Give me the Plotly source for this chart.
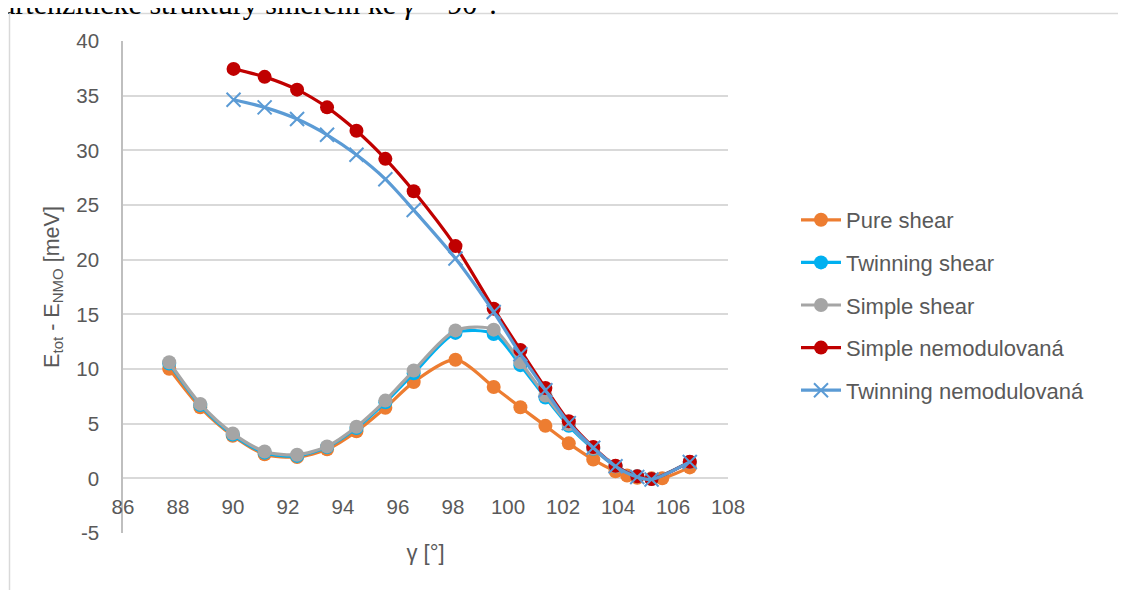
import plotly.graph_objects as go

# ---- data ----
x_pure = [87.68, 88.81, 89.99, 91.15, 92.33, 93.42, 94.49, 95.54, 96.57, 98.09, 99.48,
          100.45, 101.36, 102.21, 103.10, 103.91, 104.33, 104.70, 105.22, 105.61, 106.61]
y_pure = [10.02, 6.5, 3.9, 2.2, 1.95, 2.65, 4.3, 6.45, 8.8, 10.85, 8.35,
          6.5, 4.8, 3.2, 1.72, 0.65, 0.25, 0.05, 0.0, 0.0, 1.0]

x_shear = [87.68, 88.81, 89.99, 91.15, 92.33, 93.42, 94.49, 95.54, 96.57, 98.09, 99.48,
           100.45, 101.36, 102.21, 103.10, 103.91, 104.70, 105.22, 106.61]
y_twin = [10.5, 6.7, 4.0, 2.35, 2.05, 2.85, 4.6, 6.95, 9.6, 13.3, 13.2,
          10.35, 7.4, 4.8, 2.7, 1.1, 0.2, -0.05, 1.5]
y_simple = [10.62, 6.81, 4.11, 2.46, 2.16, 2.92, 4.72, 7.11, 9.86, 13.53, 13.6,
            10.62, 7.57, 4.95, 2.75, 1.1, 0.2, -0.05, 1.5]

x_nemod = [90.02, 91.15, 92.33, 93.42, 94.49, 95.54, 96.57, 98.09, 99.48,
           100.45, 101.36, 102.21, 103.10, 103.91, 104.70, 105.22, 106.61]
y_simple_nemod = [37.45, 36.72, 35.55, 33.93, 31.79, 29.22, 26.26, 21.24, 15.52,
                  11.74, 8.26, 5.23, 2.86, 1.15, 0.18, -0.07, 1.51]
y_twin_nemod = [34.63, 33.93, 32.86, 31.42, 29.59, 27.36, 24.54, 20.11, 15.21,
                11.35, 8.05, 5.05, 2.8, 1.1, 0.12, -0.1, 1.5]

names = ["Pure shear", "Twinning shear", "Simple shear", "Simple nemodulovaná", "Twinning nemodulovaná"]
colors = ["#ED7D31", "#00B0F0", "#A5A5A5", "#C00000", "#5B9BD5"]

x_range = [86, 108]
y_range = [-5, 40]
x_ticks = list(range(86, 109, 2))
y_ticks = list(range(-5, 41, 5))
y_ticktext = [str(v) for v in y_ticks]   # plain hyphen for "-5"

caption = "artenzitické struktury směrem ke <i>γ</i> = 90°."
x_title = "γ [°]"
y_title = "E<sub>tot</sub> - E<sub>NMO</sub> [meV]"

FONT = "Liberation Sans, Arial, sans-serif"
TXT = "#595959"

# page body has an 8px margin; the plot area in reference pixels is x 123..728, y 41..533
L, T, W, H = 115, 33, 605, 492


def px(p):  # reference x pixel -> paper
    return (p - 123) / W


def py(p):  # reference y pixel -> paper
    return (533 - p) / H


fig = go.Figure()
series = [(x_pure, y_pure), (x_shear, y_twin), (x_shear, y_simple),
          (x_nemod, y_simple_nemod), (x_nemod, y_twin_nemod)]
for i, ((xs, ys), nm, c) in enumerate(zip(series, names, colors)):
    if i == 4:
        marker = dict(symbol="x-thin", size=14, color=c, line=dict(color=c, width=2))
    else:
        marker = dict(symbol="circle", size=14, color=c)
    fig.add_trace(go.Scatter(
        x=xs, y=ys, name=nm, mode="lines+markers",
        line=dict(color=c, width=3.2, shape="spline", smoothing=0.8),
        marker=marker, legendgroup=nm,
    ))

zero_pos = (0 - y_range[0]) / (y_range[1] - y_range[0])

fig.update_layout(
    width=1126, height=590,
    margin=dict(l=L, r=1126 - L - W, t=T, b=590 - T - H, autoexpand=False),
    paper_bgcolor="white", plot_bgcolor="white",
    font=dict(family=FONT, size=20, color=TXT),
    showlegend=True,
    legend=dict(x=px(796), y=py(199), xanchor="left", yanchor="top",
                font=dict(family=FONT, size=22, color=TXT),
                tracegroupgap=11, itemwidth=40, bgcolor="rgba(0,0,0,0)"),
    xaxis=dict(range=x_range, tickvals=x_ticks, showgrid=False, zeroline=False,
               showline=False, ticks="", anchor="free", position=zero_pos,
               ticklabelstandoff=14, automargin=False,
               tickfont=dict(family=FONT, size=20.5, color=TXT),
               title=dict(text=x_title, standoff=27, font=dict(family=FONT, size=22, color=TXT))),
    yaxis=dict(range=y_range, tickvals=y_ticks, ticktext=y_ticktext, showgrid=True,
               gridcolor="#D9D9D9", gridwidth=1.5, zeroline=False, showline=True,
               linecolor="#BFBFBF", linewidth=1.5, ticks="", ticklabelstandoff=18,
               automargin=False,
               tickfont=dict(family=FONT, size=20.5, color=TXT),
               title=dict(text=y_title, standoff=11, font=dict(family=FONT, size=21.5, color=TXT))),
    shapes=[
        dict(type="line", xref="paper", yref="paper", x0=px(9.5), x1=px(1140),
             y0=py(13.5), y1=py(13.5), line=dict(color="#D9D9D9", width=1.5)),
        dict(type="line", xref="paper", yref="paper", x0=px(9.5), x1=px(9.5),
             y0=py(13.5), y1=py(610), line=dict(color="#D9D9D9", width=1.5)),
    ],
    annotations=[
        dict(text=caption, xref="paper", yref="paper", x=px(0), y=py(22),
             xanchor="left", yanchor="bottom", showarrow=False,
             font=dict(family="Liberation Serif, Times New Roman, serif", size=30, color="black")),
    ],
)

fig.write_html("out.html")
